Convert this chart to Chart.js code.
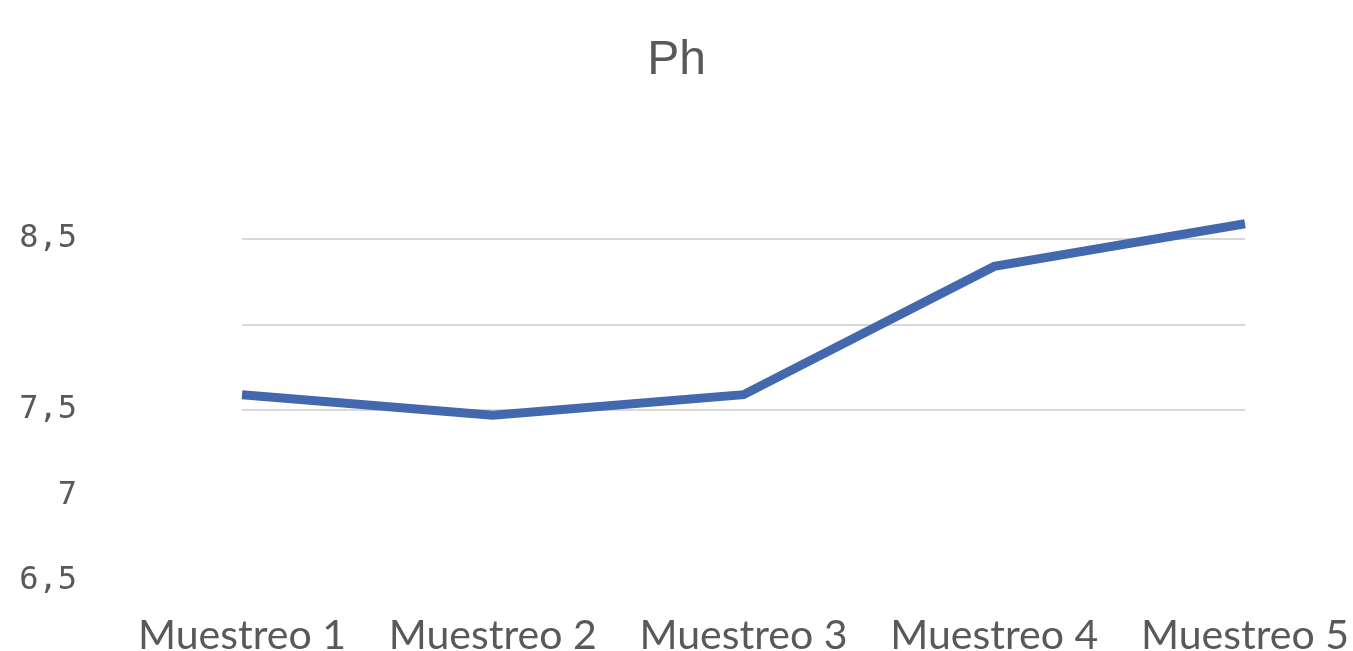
<!DOCTYPE html>
<html>
<head>
<meta charset="utf-8">
<script src="https://cdn.jsdelivr.net/npm/chart.js@4/dist/chart.umd.min.js"></script>
<style>
  html, body { margin: 0; padding: 0; background: #fff; overflow: hidden; }
  #wrap { position: relative; width: 1353px; height: 651px; }
</style>
</head>
<body>
<div id="wrap"><canvas id="ph-chart"></canvas></div>
<script>
const samples = ['Muestreo 1', 'Muestreo 2', 'Muestreo 3', 'Muestreo 4', 'Muestreo 5'];
const phValues = [7.59, 7.47, 7.59, 8.34, 8.59];
const yLabels = { 6.5: '6,5', 7: '7', 7.5: '7,5', 8.5: '8,5' };

const textGrey = '#595959';

const ctx = document.getElementById('ph-chart').getContext('2d');
new Chart(ctx, {
    type: 'line',
    data: {
        labels: samples,
        datasets: [{
            label: 'Ph',
            data: phValues,
            yAxisID: 'y',
            borderColor: '#4468AE',
            borderWidth: 9,
            pointRadius: 0,
            tension: 0,
            fill: false
        }]
    },
    options: {
        responsive: true,
        maintainAspectRatio: false,
        animation: false,
        layout: { padding: 0 },
        plugins: {
            legend: { display: false },
            tooltip: { enabled: false },
            title: {
                display: true,
                text: 'Ph',
                color: textGrey,
                font: { family: '"Liberation Sans", Arial, sans-serif', size: 48, weight: 'normal' },
                padding: { top: 32, bottom: 64 }
            }
        },
        scales: {
            x: {
                offset: false,
                border: { display: false },
                grid: { display: false, drawTicks: false },
                ticks: {
                    color: textGrey,
                    font: { family: 'Lato, sans-serif', size: 41 },
                    padding: 30,
                    maxRotation: 0,
                    autoSkip: false
                },
                // labels may spill past the plot edges without squeezing it
                afterFit: s => {
                    s.height = 70;
                    s.paddingLeft = 0;
                    s.paddingRight = 0;
                }
            },
            y: {
                min: 6.5,
                max: 9,
                border: { display: false },
                grid: {
                    drawTicks: false,
                    lineWidth: 2,
                    color: c => (c.tick && c.tick.value >= 7.5 && c.tick.value <= 8.5) ? '#D9D9D9' : 'rgba(0,0,0,0)'
                },
                ticks: {
                    stepSize: 0.5,
                    color: textGrey,
                    font: { family: '"DejaVu Sans Mono", monospace', size: 32 },
                    padding: 165,
                    callback: v => yLabels[v] || ''
                },
                // the wide tick padding would otherwise also pad the plot top and bottom
                afterFit: s => {
                    s.width = 242;
                    s.paddingTop = 0;
                    s.paddingBottom = 0;
                }
            },
            // empty right-hand axis keeps the plot clear of the right edge
            yRight: {
                position: 'right',
                min: 6.5,
                max: 9,
                border: { display: false },
                grid: { display: false, drawTicks: false },
                ticks: { display: false },
                afterFit: s => {
                    s.width = 108;
                    s.paddingTop = 0;
                    s.paddingBottom = 0;
                }
            }
        }
    }
});
</script>
</body>
</html>
